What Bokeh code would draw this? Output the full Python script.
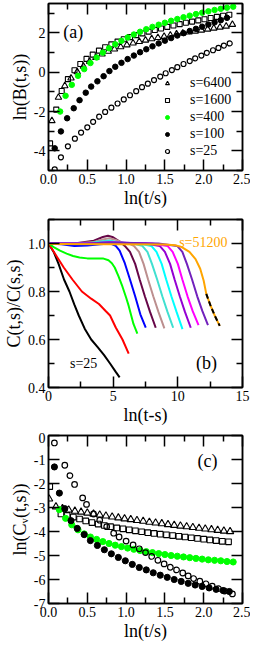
from bokeh.plotting import figure
from bokeh.models import (Range1d, FixedTicker, LinearAxis, CustomJSTickFormatter,
                          Label, Legend, LegendItem)
from bokeh.layouts import column
from bokeh.embed import file_html
from bokeh.resources import INLINE

FONT = "Liberation Serif"

# ---------------- panel (a): ln(B(t,s)) vs ln(t/s) ----------------
a_x_6400 = [0.044, 0.128, 0.21, 0.29, 0.37, 0.45, 0.53, 0.61, 0.69, 0.77, 0.85, 0.93, 1.01, 1.09, 1.17,
            1.25, 1.33, 1.41, 1.49, 1.57, 1.65, 1.73, 1.81, 1.89, 1.97, 2.05, 2.13, 2.21, 2.29, 2.37]
a_y_6400 = [-2.47, -1.28, -0.69, -0.30, 0.02, 0.30, 0.55, 0.75, 0.92, 1.06, 1.18, 1.29, 1.39, 1.48, 1.56,
            1.63, 1.70, 1.76, 1.82, 1.88, 1.94, 1.99, 2.04, 2.09, 2.14, 2.19, 2.24, 2.29, 2.34, 2.43]
a_x_1600 = [0.02, 0.10, 0.17, 0.25, 0.335, 0.41, 0.49, 0.57, 0.65, 0.73, 0.81, 0.89, 0.97, 1.05, 1.13,
            1.21, 1.29, 1.37, 1.45, 1.53, 1.61, 1.69, 1.77, 1.85, 1.93, 2.01, 2.09, 2.17, 2.25, 2.33]
a_y_1600 = [-3.62, -1.90, -0.95, -0.35, 0.10, 0.42, 0.68, 0.90, 1.10, 1.27, 1.42, 1.56, 1.68, 1.79, 1.89,
            1.98, 2.07, 2.15, 2.23, 2.31, 2.38, 2.45, 2.52, 2.58, 2.64, 2.70, 2.76, 2.82, 2.88, 2.93]
a_x_400 = [0.15, 0.22, 0.30, 0.38, 0.46, 0.54, 0.62, 0.70, 0.78, 0.86, 0.94, 1.02, 1.10, 1.18, 1.26,
           1.34, 1.42, 1.50, 1.58, 1.66, 1.74, 1.82, 1.90, 1.98, 2.06, 2.14, 2.22, 2.30, 2.38]
a_y_400 = [-2.0, -1.2, -0.64, -0.18, 0.16, 0.47, 0.75, 1.00, 1.22, 1.42, 1.60, 1.77, 1.92, 2.06, 2.19,
           2.31, 2.42, 2.52, 2.62, 2.71, 2.80, 2.88, 2.96, 3.03, 3.10, 3.17, 3.23, 3.29, 3.34]
a_x_100 = [0.08, 0.16, 0.24, 0.325, 0.40, 0.48, 0.55, 0.63, 0.71, 0.785, 0.86, 0.94, 1.02, 1.10, 1.18,
           1.26, 1.34, 1.42, 1.50, 1.58, 1.66, 1.74, 1.82, 1.90, 1.98, 2.06, 2.14, 2.22, 2.30]
a_y_100 = [-3.87, -3.01, -2.34, -1.83, -1.42, -1.04, -0.73, -0.46, -0.20, 0.06, 0.28, 0.48, 0.67, 0.85, 1.02,
           1.17, 1.32, 1.47, 1.61, 1.74, 1.87, 1.99, 2.10, 2.21, 2.32, 2.43, 2.54, 2.65, 2.77]
a_x_25 = [0.08, 0.16, 0.25, 0.34, 0.42, 0.50, 0.575, 0.653, 0.73, 0.81, 0.89, 0.97, 1.05, 1.13, 1.205,
          1.28, 1.36, 1.44, 1.51, 1.59, 1.66, 1.74, 1.82, 1.89, 1.97, 2.04, 2.12, 2.19, 2.26, 2.335]
a_y_25 = [-4.94, -4.33, -3.77, -3.38, -3.07, -2.80, -2.52, -2.26, -2.02, -1.80, -1.59, -1.38, -1.17, -0.96, -0.76,
          -0.58, -0.40, -0.22, -0.05, 0.11, 0.26, 0.42, 0.57, 0.71, 0.85, 0.99, 1.12, 1.24, 1.36, 1.47]
legend_labels = ["s=6400", "s=1600", "s=400", "s=100", "s=25"]

# ---------------- panel (b): C(t,s)/C(s,s) vs ln(t-s) ----------------
b_names = ["s=25", "s=50", "s=100", "s=200", "s=400", "s=800", "s=1600", "s=3200",
           "s=6400", "s=12800", "s=25600", "s=51200"]
b_colors = ["#000000", "#ff0000", "#00ff00", "#0000ff", "#670748", "#bc8f8f", "#40e0d0", "#00ffff",
            "#9400d3", "#ff00ff", "#7221bc", "#ffa500"]
b_x = [
    [0, 0.4, 0.77, 1.2, 1.62, 2.0, 2.34, 2.8, 3.3, 3.8, 4.3, 4.76, 5.2, 5.5],
    [0, 0.3, 0.65, 1.18, 1.85, 2.58, 3.3, 3.9, 4.4, 4.76, 5.2, 5.72, 6.2],
    [0, 0.4, 0.89, 1.4, 1.9, 2.4, 3.0, 3.6, 4.2, 4.64, 4.9, 5.12, 5.4, 5.72, 6.0, 6.2, 6.57, 6.87],
    [0, 1.0, 2.0, 3.0, 4.0, 4.8, 5.2, 5.5, 5.9, 6.3, 6.7, 7.1, 7.52],
    [0, 2.0, 3.5, 4.2, 4.6, 5.0, 5.5, 5.9, 6.3, 6.7, 7.05, 7.45, 7.85, 8.29],
    [0, 2.0, 3.5, 4.2, 4.7, 5.2, 5.8, 6.3, 6.6, 7.0, 7.35, 7.7, 8.1, 8.5, 8.96],
    [0, 3.0, 4.0, 4.7, 5.4, 6.5, 7.25, 7.65, 8.0, 8.4, 8.8, 9.2, 9.64],
    [0, 3.0, 4.0, 4.7, 5.4, 7.0, 7.95, 8.35, 8.75, 9.1, 9.5, 9.9, 10.36],
    [0, 3.0, 4.7, 7.5, 8.6, 9.0, 9.4, 9.75, 10.15, 10.55, 11.0],
    [0, 3.0, 4.7, 8.0, 9.2, 9.6, 10.0, 10.35, 10.75, 11.15, 11.6],
    [0, 3.0, 4.7, 8.5, 9.95, 10.35, 10.7, 11.1, 11.5, 11.9, 12.33],
    [0, 5.0, 9.0, 9.8, 10.3, 10.9, 11.37, 11.73, 12.0, 12.2, 12.5, 12.85, 13.24],
]
b_y = [
    [1.0, 0.965, 0.916, 0.85, 0.80, 0.745, 0.70, 0.645, 0.60, 0.568, 0.535, 0.50, 0.465, 0.442],
    [1.0, 0.975, 0.945, 0.90, 0.85, 0.80, 0.77, 0.748, 0.72, 0.70, 0.65, 0.60, 0.541],
    [1.0, 0.985, 0.97, 0.958, 0.948, 0.942, 0.938, 0.937, 0.938, 0.93, 0.918, 0.90, 0.865, 0.82, 0.775, 0.74, 0.665, 0.624],
    [1.0, 0.997, 0.99, 0.992, 0.997, 1.0, 0.99, 0.97, 0.918, 0.85, 0.78, 0.705, 0.649],
    [1.0, 1.0, 1.012, 1.027, 1.032, 1.026, 1.008, 0.99, 0.965, 0.915, 0.85, 0.78, 0.715, 0.649],
    [1.0, 1.0, 1.006, 1.017, 1.022, 1.015, 1.002, 0.998, 0.99, 0.965, 0.915, 0.85, 0.78, 0.715, 0.646],
    [1.0, 1.0, 1.008, 1.013, 1.005, 1.0, 0.99, 0.965, 0.915, 0.85, 0.78, 0.715, 0.649],
    [1.0, 1.0, 1.004, 1.008, 1.003, 1.0, 0.99, 0.965, 0.915, 0.85, 0.78, 0.715, 0.643],
    [1.0, 1.0, 1.005, 1.0, 0.99, 0.965, 0.915, 0.85, 0.78, 0.715, 0.649],
    [1.0, 1.0, 1.004, 1.0, 0.99, 0.965, 0.915, 0.85, 0.78, 0.718, 0.66],
    [1.0, 1.0, 1.004, 1.0, 0.99, 0.965, 0.915, 0.85, 0.78, 0.718, 0.66],
    [0.998, 0.997, 0.996, 0.993, 0.985, 0.965, 0.935, 0.895, 0.845, 0.79, 0.745, 0.70, 0.657],
]
b_fit_x = [12.2, 12.5, 12.85, 13.24]
b_fit_y = [0.79, 0.745, 0.70, 0.657]

# ---------------- panel (c): ln(C_v(t,s)) vs ln(t/s) ----------------
c_x_6400 = [0.008, 0.096, 0.18, 0.26, 0.34, 0.42, 0.50, 0.58, 0.66, 0.74, 0.82, 0.90, 0.98, 1.06, 1.14,
            1.22, 1.30, 1.38, 1.46, 1.54, 1.62, 1.70, 1.78, 1.86, 1.94, 2.02, 2.10, 2.18, 2.26, 2.34]
c_y_6400 = [-2.64, -2.97, -3.04, -3.10, -3.15, -3.19, -3.23, -3.27, -3.31, -3.35, -3.39, -3.43, -3.47, -3.50, -3.54,
            -3.57, -3.61, -3.64, -3.67, -3.71, -3.74, -3.77, -3.80, -3.83, -3.86, -3.89, -3.92, -3.95, -3.98, -4.0]
c_x_1600 = [0.016, 0.16, 0.24, 0.32, 0.40, 0.48, 0.56, 0.64, 0.72, 0.80, 0.88, 0.96, 1.04, 1.12, 1.20,
            1.28, 1.36, 1.44, 1.52, 1.60, 1.68, 1.76, 1.84, 1.92, 2.00, 2.08, 2.16, 2.24, 2.32]
c_y_1600 = [-2.13, -3.27, -3.33, -3.40, -3.48, -3.56, -3.63, -3.69, -3.75, -3.80, -3.85, -3.89, -3.93, -3.97, -4.01,
            -4.05, -4.08, -4.11, -4.14, -4.17, -4.20, -4.23, -4.26, -4.29, -4.32, -4.35, -4.38, -4.41, -4.43]
c_x_400 = [0.14, 0.22, 0.30, 0.38, 0.46, 0.54, 0.62, 0.70, 0.78, 0.86, 0.94, 1.02, 1.10, 1.18, 1.26,
           1.34, 1.42, 1.50, 1.58, 1.66, 1.74, 1.82, 1.90, 1.98, 2.06, 2.14, 2.22, 2.30, 2.38]
c_y_400 = [-3.09, -3.45, -3.72, -3.93, -4.10, -4.23, -4.33, -4.42, -4.50, -4.57, -4.63, -4.69, -4.74, -4.79, -4.84,
           -4.88, -4.92, -4.96, -5.00, -5.03, -5.06, -5.09, -5.12, -5.15, -5.18, -5.20, -5.22, -5.25, -5.27]
c_x_100 = [0.076, 0.14, 0.21, 0.29, 0.37, 0.46, 0.54, 0.63, 0.72, 0.81, 0.90, 0.99, 1.08, 1.17,
           1.26, 1.35, 1.44, 1.53, 1.62, 1.71, 1.80, 1.89, 1.98, 2.07, 2.16, 2.25, 2.33]
c_y_100 = [-1.31, -2.4, -3.05, -3.55, -3.87, -4.13, -4.38, -4.58, -4.76, -4.93, -5.08, -5.22, -5.37, -5.5,
           -5.6, -5.72, -5.82, -5.91, -6.0, -6.08, -6.16, -6.23, -6.29, -6.35, -6.41, -6.46, -6.5]
c_x_25 = [0.076, 0.21, 0.276, 0.336, 0.44, 0.49, 0.58, 0.66, 0.75, 0.84, 0.91, 1.0, 1.09, 1.17, 1.25,
          1.33, 1.41, 1.49, 1.57, 1.65, 1.73, 1.80, 1.87, 1.95, 2.03, 2.11, 2.19, 2.27, 2.37]
c_y_25 = [-0.31, -1.24, -1.67, -2.04, -2.6, -2.87, -3.27, -3.53, -3.80, -4.07, -4.23, -4.4, -4.56, -4.72, -4.88,
          -5.04, -5.2, -5.35, -5.49, -5.6, -5.73, -5.85, -5.96, -6.07, -6.18, -6.28, -6.38, -6.48, -6.6]

# ---------------- ticks ----------------
tb_x_major = [0, 0.5, 1.0, 1.5, 2.0, 2.5]
tb_x_labels = ["0.0", "0.5", "1.0", "1.5", "2.0", "2.5"]
tb_x_minor = [0.25, 0.75, 1.25, 1.75, 2.25]
a_y_major = [-4, -2, 0, 2]
a_y_labels = ["-4", "-2", "0", "2"]
a_y_minor = [-5, -3, -1, 1, 3]
b_x_major = [0, 5, 10, 15]
b_x_labels = ["0", "5", "10", "15"]
b_x_minor = [2.5, 7.5, 12.5]
b_y_major = [0.4, 0.6, 0.8, 1.0]
b_y_labels = ["0.4", "0.6", "0.8", "1.0"]
b_y_minor = [0.5, 0.7, 0.9, 1.1]
c_y_major = [-7, -6, -5, -4, -3, -2, -1, 0]
c_y_labels = ["-7", "-6", "-5", "-4", "-3", "-2", "-1", "0"]


def label_formatter(vals, labels):
    return CustomJSTickFormatter(args=dict(tv=vals, tl=labels), code="""
        for (let i = 0; i < tv.length; i++) { if (Math.abs(tv[i] - tick) < 1e-9) return tl[i]; }
        return '';""")


def style_axis(ax, major, minor, labels=None):
    ax.ticker = FixedTicker(ticks=major, minor_ticks=minor)
    ax.axis_line_width = 1.5
    ax.axis_line_color = "black"
    ax.major_tick_in = 11
    ax.major_tick_out = 0
    ax.minor_tick_in = 6
    ax.minor_tick_out = 0
    ax.major_tick_line_width = 1.5
    ax.minor_tick_line_width = 1.5
    ax.major_tick_line_color = "black"
    ax.minor_tick_line_color = "black"
    if labels is not None:
        ax.formatter = label_formatter(major, labels)
        ax.major_label_text_font = FONT
        ax.major_label_text_font_size = "14px"
        ax.major_label_text_color = "black"
        ax.major_label_standoff = 3
        ax.axis_label_text_font = FONT
        ax.axis_label_text_font_size = "18px"
        ax.axis_label_text_font_style = "normal"
        ax.axis_label_text_color = "black"
        ax.axis_label_standoff = 1
    else:
        ax.formatter = CustomJSTickFormatter(code="return '';")
        ax.major_label_text_font_size = "0px"
        ax.major_label_standoff = 0


def make_fig(h, xr, yr, top, bottom, xmaj, xmin, xlab, ymaj, ymin, ylab, xtitle, ytitle):
    p = figure(width=250, height=h, x_range=Range1d(*xr), y_range=Range1d(*yr),
               output_backend="svg", toolbar_location=None,
               min_border_left=42, min_border_right=8, min_border_top=top, min_border_bottom=bottom)
    p.xgrid.visible = False
    p.ygrid.visible = False
    p.outline_line_color = "black"
    p.outline_line_width = 1.5
    p.background_fill_color = "white"
    p.border_fill_color = "white"
    style_axis(p.below[0], xmaj, xmin, xlab)
    style_axis(p.left[0], ymaj, ymin, ylab)
    p.below[0].axis_label = xtitle
    p.left[0].axis_label = ytitle
    top_ax = LinearAxis()
    style_axis(top_ax, xmaj, xmin)
    p.add_layout(top_ax, "above")
    right_ax = LinearAxis()
    style_axis(right_ax, ymaj, ymin)
    p.add_layout(right_ax, "right")
    return p


def text(p, x, y, s, size, color="black"):
    p.add_layout(Label(x=x, y=y, text=s, text_font=FONT, text_font_size=size,
                       text_color=color, text_baseline="middle", text_align="left"))


def add_markers(p, sets, scale):
    rs = []
    for (xs, ys, kind) in sets:
        if kind == "tri":
            r = p.scatter(xs, ys, marker="triangle", size=6.5 * scale, fill_alpha=0, line_color="black", line_width=1.1)
        elif kind == "sq":
            r = p.scatter(xs, ys, marker="square", size=5 * scale, fill_alpha=0, line_color="black", line_width=1.1)
        elif kind == "green":
            r = p.scatter(xs, ys, marker="circle", size=5.5 * scale, fill_color="#00ff00", line_color="#00ff00")
        elif kind == "black":
            r = p.scatter(xs, ys, marker="circle", size=5.5 * scale, fill_color="black", line_color="black")
        else:
            r = p.scatter(xs, ys, marker="circle", size=5 * scale, fill_alpha=0, line_color="black", line_width=1.2)
        rs.append(r)
    return rs


# ---- (a)
pa = make_fig(216, (0, 2.5), (-5, 3.5), 3, 46, tb_x_major, tb_x_minor, tb_x_labels,
              a_y_major, a_y_minor, a_y_labels, "ln(t/s)", "ln(B(t,s))")
ra = add_markers(pa, [(a_x_6400, a_y_6400, "tri"), (a_x_1600, a_y_1600, "sq"), (a_x_400, a_y_400, "green"),
                      (a_x_100, a_y_100, "black"), (a_x_25, a_y_25, "open")], 1.0)
leg = Legend(items=[LegendItem(label=l, renderers=[r]) for l, r in zip(legend_labels, ra)],
             location=(114, 11), background_fill_alpha=0, border_line_alpha=0,
             label_text_font=FONT, label_text_font_size="14px", label_text_color="black",
             glyph_width=10, glyph_height=10, label_height=17, label_standoff=18,
             spacing=0, padding=0, margin=0)
pa.add_layout(leg)
text(pa, 0.19, 2.04, "(a)", "18px")

# ---- (b)
pb = make_fig(216, (0, 15), (0.4, 1.1), 3, 45, b_x_major, b_x_minor, b_x_labels,
              b_y_major, b_y_minor, b_y_labels, "ln(t-s)", "C(t,s)/C(s,s)")
for xs, ys, c in zip(b_x, b_y, b_colors):
    pb.line(xs, ys, line_color=c, line_width=2)
pb.line(b_fit_x, b_fit_y, line_color="black", line_width=2, line_dash="5 3")
text(pb, 11.4, 0.503, "(b)", "18px")
text(pb, 1.66, 0.50, "s=25", "14px")
text(pb, 10.1, 1.006, "s=51200", "14px", "#ffa500")

# ---- (c)
pc = make_fig(211, (0, 2.5), (-7, 0), 3, 38, tb_x_major, tb_x_minor, tb_x_labels,
              c_y_major, [], c_y_labels, "ln(t/s)", "ln(C\u1d65(t,s))")
add_markers(pc, [(c_x_6400, c_y_6400, "tri"), (c_x_1600, c_y_1600, "sq"), (c_x_400, c_y_400, "green"),
                 (c_x_100, c_y_100, "black"), (c_x_25, c_y_25, "open")], 1.12)
text(pc, 1.92, -1.05, "(c)", "18px")

layout = column(pa, pb, pc, spacing=0)
open("out.html", "w").write(file_html(layout, INLINE))
